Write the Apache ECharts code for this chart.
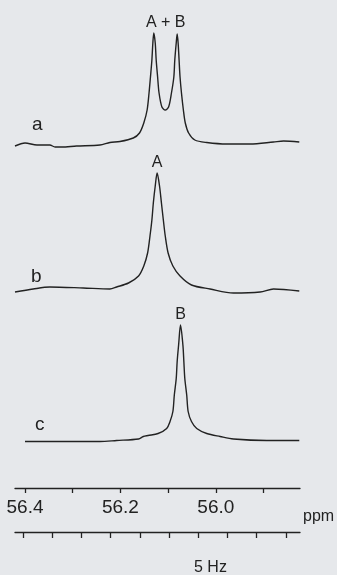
<!DOCTYPE html>
<html>
<head>
<meta charset="utf-8">
<title>31P NMR spectra a, b, c</title>
<script src="https://cdn.jsdelivr.net/npm/echarts@6.0.0/dist/echarts.min.js"></script>
<style>
  html, body { margin: 0; padding: 0; background: #e6e8eb; }
  #chart { width: 337px; height: 575px; }
</style>
</head>
<body>
<div id="chart"></div>
<script>
// [ppm, intensity] (baseline = 0)
var traceA = [
  [56.421, -1], [56.400, 2], [56.375, 0], [56.348, 0], [56.337, -2], [56.323, -2],
  [56.292, -1], [56.243, 0], [56.222, 2.5], [56.201, 3.5], [56.173, 7], [56.160, 12],
  [56.151, 22], [56.144, 35], [56.140, 52], [56.137, 68], [56.134, 85], [56.132, 102],
  [56.130, 112], [56.127, 102], [56.125, 85], [56.122, 68], [56.119, 52], [56.113, 38],
  [56.106, 35], [56.099, 38], [56.093, 52], [56.088, 68], [56.086, 85], [56.083, 102],
  [56.081, 111], [56.079, 102], [56.077, 85], [56.075, 68], [56.072, 52], [56.068, 35],
  [56.064, 22], [56.057, 12], [56.044, 5], [56.019, 2.5], [55.977, 1], [55.928, 1],
  [55.879, 3], [55.858, 4], [55.825, 3]
]
var traceB = [
  [56.421, -2], [56.383, 1], [56.348, 3], [56.278, 2], [56.222, 1], [56.208, 3],
  [56.183, 7], [56.162, 14], [56.151, 24], [56.143, 37], [56.138, 54], [56.134, 70],
  [56.131, 87], [56.127, 104], [56.123, 117], [56.118, 104], [56.114, 87], [56.110, 70],
  [56.106, 54], [56.100, 37], [56.090, 24], [56.075, 14], [56.051, 5], [56.012, 1],
  [55.963, -3], [55.907, -2], [55.879, 1], [55.825, -1]
]
var traceC = [
  [56.400, 0], [56.313, 0], [56.243, 0], [56.208, 1], [56.162, 2.5], [56.152, 5],
  [56.142, 6], [56.121, 8], [56.103, 13], [56.096, 20], [56.090, 30], [56.087, 46.5],
  [56.083, 63], [56.081, 80], [56.078, 96.5], [56.074, 116.5], [56.069, 96.5], [56.067, 80],
  [56.065, 63], [56.061, 46.5], [56.058, 30], [56.051, 20], [56.040, 13], [56.019, 8],
  [55.991, 5], [55.963, 2.5], [55.893, 1], [55.825, 1]
]

var traceNames = ['a', 'b', 'c']
// peak label, anchored on [ppm, intensity]
var peakLabels = [
  { text: 'A + B', at: [56.105, 112] },
  { text: 'A', at: [56.123, 117] },
  { text: 'B', at: [56.074, 116.5] }
]

var ppmTicks = [56.4, 56.3, 56.2, 56.1, 56.0, 55.9]
var ppmLabels = [56.4, 56.2, 56.0]
var hzTicks = [0, 5, 10, 15, 20, 25, 30, 35, 40, 45]

var FONT = 'Liberation Sans, Arial, Helvetica, sans-serif'
var INK = '#222222'
var PPM_MIN = 55.8235, PPM_MAX = 56.421

var chart = echarts.init(document.getElementById('chart'), null, { renderer: 'canvas' })

function hiddenX(i) {
  return { type: 'value', gridIndex: i, min: PPM_MIN, max: PPM_MAX, inverse: true, show: false }
}
function hiddenY(i, max) {
  return { type: 'value', gridIndex: i, min: -10, max: max, show: false }
}
function trace(i, data) {
  var p = peakLabels[i]
  return {
    type: 'line',
    name: traceNames[i],
    xAxisIndex: i,
    yAxisIndex: i,
    data: data,
    smooth: 0.3,
    showSymbol: false,
    silent: true,
    lineStyle: { color: INK, width: 1.4 },
    markPoint: {
      symbol: 'rect',
      symbolSize: 1,
      itemStyle: { color: 'rgba(0,0,0,0)' },
      label: {
        show: true,
        position: 'top',
        distance: 2,
        formatter: p.text,
        color: INK,
        fontSize: 16,
        fontFamily: FONT
      },
      data: [{ coord: p.at }]
    }
  }
}

chart.setOption({
  backgroundColor: '#e6e8eb',
  animation: false,
  grid: [
    { left: 15, right: 37, top: 25, height: 130 },
    { left: 15, right: 37, top: 160, height: 140 },
    { left: 15, right: 37, top: 311.5, height: 140 }
  ],
  xAxis: [
    hiddenX(0),
    hiddenX(1),
    {
      // ppm scale
      type: 'value', gridIndex: 2, position: 'bottom', offset: 36.5,
      min: PPM_MIN, max: PPM_MAX, inverse: true,
      axisLine: { onZero: false, lineStyle: { color: INK, width: 1.3 } },
      axisTick: { customValues: ppmTicks, length: 5, lineStyle: { color: INK, width: 1.3 } },
      axisLabel: {
        customValues: ppmLabels,
        margin: 10,
        color: INK,
        fontSize: 19,
        fontFamily: FONT,
        formatter: function (v) { return v.toFixed(1) }
      },
      splitLine: { show: false }
    },
    {
      // 5 Hz scale bar
      type: 'value', gridIndex: 2, position: 'bottom', offset: 80.5,
      min: -1.37, max: 47.43,
      axisLine: { onZero: false, lineStyle: { color: INK, width: 1.3 } },
      axisTick: { customValues: hzTicks, length: 6, lineStyle: { color: INK, width: 1.3 } },
      axisLabel: { show: false },
      splitLine: { show: false }
    }
  ],
  yAxis: [hiddenY(0, 120), hiddenY(1, 130), hiddenY(2, 130)],
  series: [trace(0, traceA), trace(1, traceB), trace(2, traceC)],
  graphic: [
    { type: 'text', left: 32, top: 115, style: { text: 'a', fill: INK, font: '19px ' + FONT } },
    { type: 'text', left: 31, top: 267, style: { text: 'b', fill: INK, font: '19px ' + FONT } },
    { type: 'text', left: 35, top: 415, style: { text: 'c', fill: INK, font: '19px ' + FONT } },
    { type: 'text', left: 303, top: 509, style: { text: 'ppm', fill: INK, font: '16px ' + FONT } },
    { type: 'text', left: 194, top: 560, style: { text: '5 Hz', fill: INK, font: '16px ' + FONT } }
  ]
})
</script>
</body>
</html>
